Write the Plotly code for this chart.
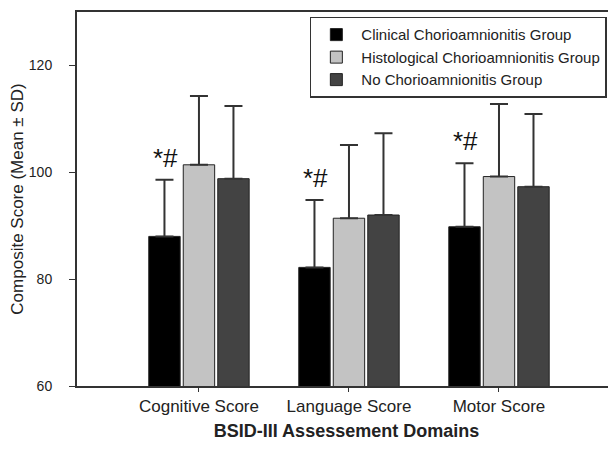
import plotly.graph_objects as go

domains = ["Cognitive Score", "Language Score", "Motor Score"]
groups = ["Clinical Chorioamnionitis Group",
          "Histological Chorioamnionitis Group",
          "No Chorioamnionitis Group"]
clinical_mean = [88.0, 82.2, 89.8]
clinical_sd = [10.6, 12.6, 11.9]
histological_mean = [101.4, 91.4, 99.2]
histological_sd = [12.9, 13.7, 13.6]
none_mean = [98.8, 92.0, 97.3]
none_sd = [13.6, 15.3, 13.6]
sig_label = "*#"

means = [clinical_mean, histological_mean, none_mean]
sds = [clinical_sd, histological_sd, none_sd]
colors = ["#000000", "#c3c3c3", "#434343"]

FONT = "Liberation Sans, Arial, sans-serif"

fig = go.Figure()
for g, m, s, c in zip(groups, means, sds, colors):
    fig.add_trace(go.Bar(
        x=domains, y=m, name=g,
        marker=dict(color=c, line=dict(color="#222222", width=1)),
        error_y=dict(type="data", array=s, arrayminus=[0] * len(s),
                     symmetric=False, color="#333333", thickness=2, width=9),
    ))

for d, m, s in zip(domains, clinical_mean, clinical_sd):
    fig.add_annotation(x=d, y=m + s, text=sig_label, showarrow=False,
                       xshift=-33, yshift=5, yanchor="bottom",
                       font=dict(family=FONT, size=26, color="#111111"))

fig.update_layout(
    width=608, height=433,
    margin=dict(l=69, r=0, t=4, b=53),
    paper_bgcolor="white", plot_bgcolor="white",
    barmode="group", bargap=0.31, bargroupgap=0.09,
    font=dict(family=FONT, color="#222222"),
    showlegend=True,
    legend=dict(x=0.432, y=0.987, xanchor="left", yanchor="top",
                bordercolor="#333333", borderwidth=1.5, bgcolor="white",
                font=dict(family=FONT, size=15, color="#222222"),
                itemwidth=40, traceorder="normal"),
    xaxis=dict(range=[-0.813, 2.78], showline=True, linecolor="#333333",
               linewidth=2, mirror=True, ticks="outside", ticklen=4,
               tickcolor="#333333", tickwidth=1,
               tickfont=dict(family=FONT, size=17, color="#222222"),
               title=dict(text="<b>BSID-III Assessement Domains</b>",
                          font=dict(family=FONT, size=18, color="#222222"),
                          standoff=12),
               showgrid=False, zeroline=False, fixedrange=True),
    yaxis=dict(range=[60, 130], tickvals=[60, 80, 100, 120],
               showline=True, linecolor="#333333", linewidth=2, mirror=False,
               ticks="outside", ticklen=6, tickcolor="#333333", tickwidth=1,
               ticklabelstandoff=14,
               tickfont=dict(family=FONT, size=14, color="#222222"),
               title=dict(text="Composite Score (Mean ± SD)",
                          font=dict(family=FONT, size=17, color="#222222"),
                          standoff=8),
               showgrid=False, zeroline=False),
)

fig.write_html("out.html")
